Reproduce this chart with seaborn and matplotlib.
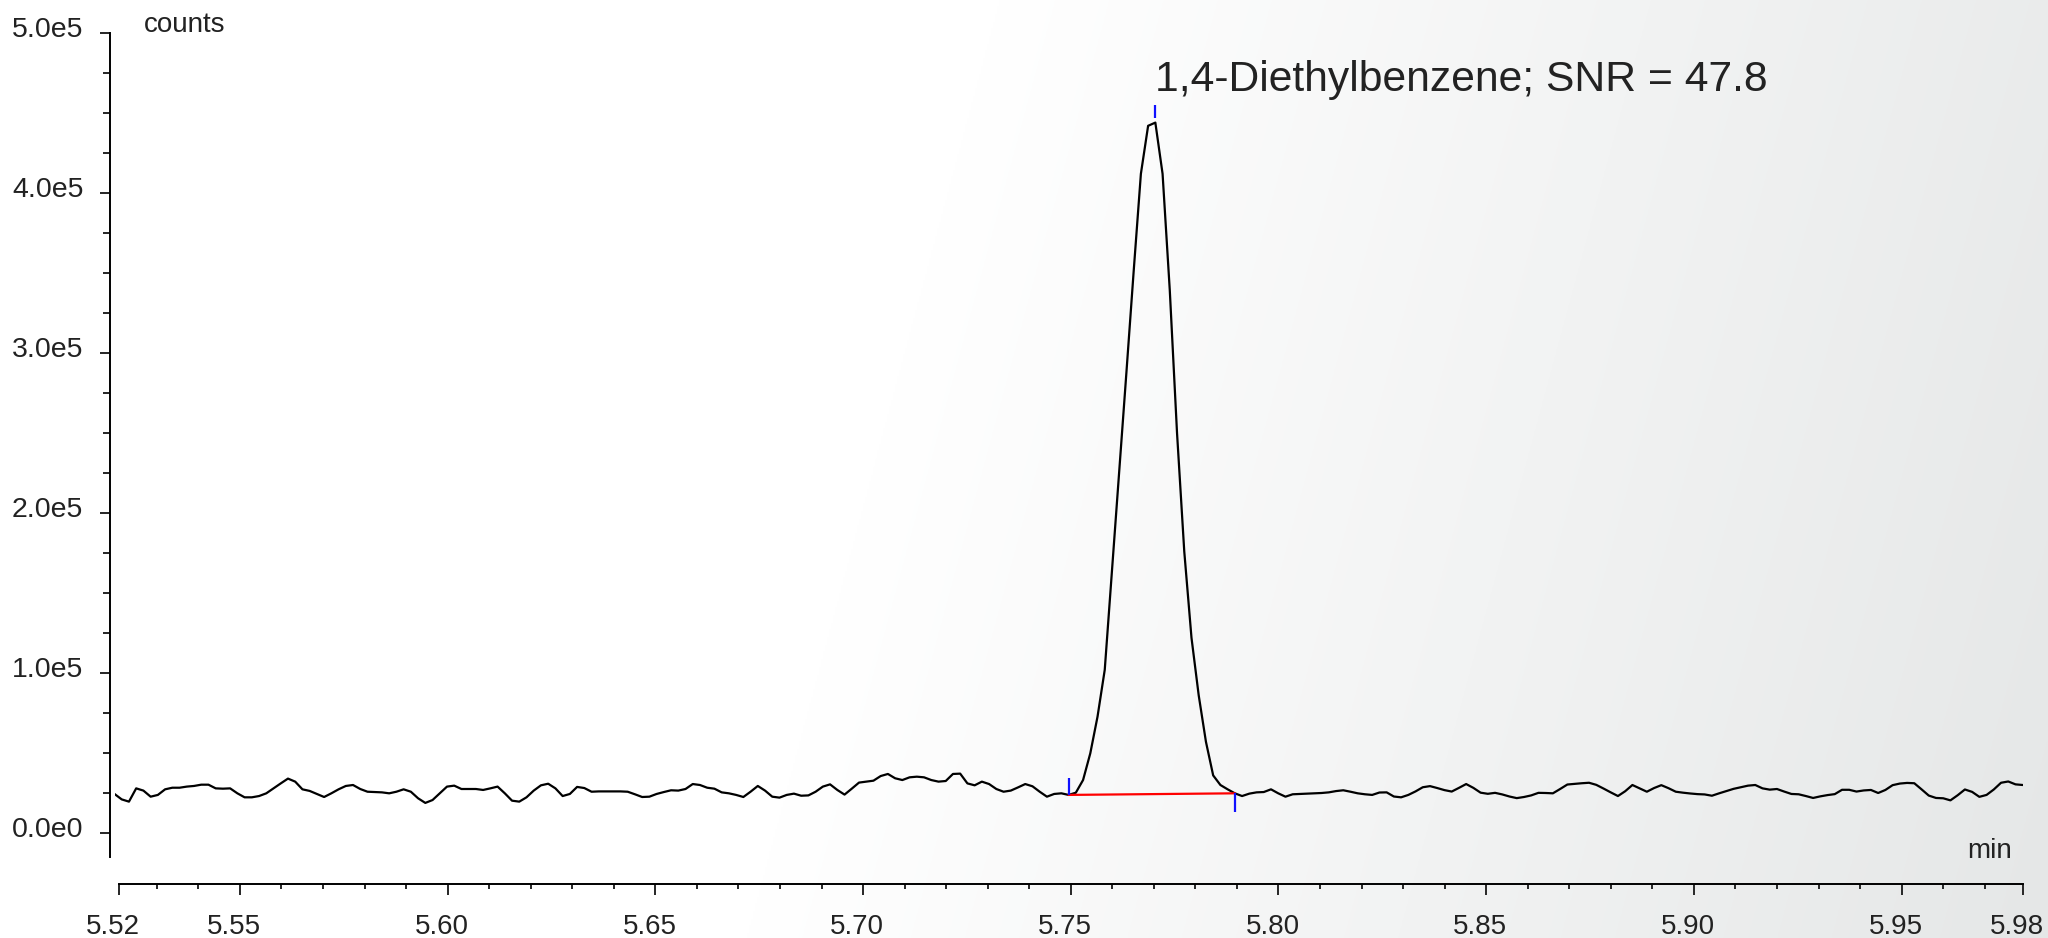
import numpy as np
import pandas as pd
import matplotlib
matplotlib.use("Agg")
import matplotlib.pyplot as plt
import matplotlib.transforms as mtransforms
import seaborn as sns

# sampling of the trace (retention time, min)
t_start = 5.5198
t_step = 0.00174
x_lo, x_hi = 5.5209, 5.9793

# detector counts in thousands
counts_before = [
    24.4, 21.0, 19.6, 27.9, 26.5, 22.7, 23.8, 27.3, 28.3, 28.3,
    29.0, 29.4, 30.2, 30.2, 27.9, 27.7, 27.9, 24.8, 22.3, 22.3,
    23.1, 24.8, 27.9, 31.0, 34.0, 32.1, 27.3, 26.3, 24.4, 22.5,
    24.8, 27.3, 29.4, 30.0, 27.5, 25.8, 25.6, 25.4, 24.8, 25.8,
    27.3, 25.8, 21.7, 18.8, 20.6, 24.8, 29.0, 29.6, 27.5, 27.5,
    27.5, 26.9, 27.9, 29.0, 24.8, 20.2, 19.6, 22.3, 26.5, 29.8,
    30.8, 27.9, 23.1, 24.4, 28.8, 28.1, 25.8,
    26.0, 26.0, 26.0, 26.0, 25.8, 24.2, 22.5, 22.7, 24.4, 25.6,
    26.7, 26.5, 27.5, 30.6, 30.0, 28.3, 27.7, 25.4, 24.8, 23.8,
    22.5, 25.8, 29.4, 26.5, 22.7, 22.1, 23.8, 24.6, 23.3, 23.5,
    25.8, 29.0, 30.4, 26.9, 24.0, 27.7, 31.5, 32.1, 32.7, 35.6,
    36.9, 34.2, 33.1, 34.8, 35.2, 34.8, 33.1, 32.1, 32.5, 36.9,
    37.1, 31.0, 29.8, 32.1, 30.6, 27.5, 25.8, 26.5, 28.5, 30.6,
    29.2, 25.8, 22.7, 24.4, 24.8, 23.8,
]
counts_peak = [
    25.2, 33.1, 49.8, 72.7, 102.0, 164.0, 226.0, 288.0, 351.0, 412.0,
    442.0, 444.0, 412.0, 339.0, 250.0, 176.0, 122.0, 86.0, 57.0, 36.0,
    30.0, 27.3, 24.8,
]
counts_after = [
    23.1, 24.6, 25.4, 25.6, 27.3, 24.8, 22.7, 24.2, 24.4, 24.6,
    24.8, 25.0, 25.4, 26.2,
    26.7, 25.8, 24.8, 24.2, 23.8, 25.3, 25.4, 22.8, 22.3, 23.8,
    26.0, 28.6, 29.3, 28.1, 26.8, 25.9, 28.2, 30.6, 28.2, 25.2,
    24.5, 25.1, 24.1, 22.8, 21.8, 22.5, 23.5, 25.1, 25.0, 24.8,
    27.5, 30.3, 30.7, 31.1, 31.4, 30.1, 27.8, 25.4, 23.1, 26.1,
    30.0, 27.9, 25.8, 28.1, 29.9, 28.0, 25.8, 25.2, 24.7, 24.3,
    24.1, 23.3, 24.8, 26.2, 27.6, 28.6, 29.6, 30.0, 27.9, 27.1,
    27.5, 25.9, 24.4, 24.2, 23.1, 21.9, 22.9, 23.7, 24.3, 27.0,
    27.0, 25.9, 26.6, 26.9, 25.0, 26.9, 29.9, 30.9, 31.3, 31.1,
    27.3, 23.4, 21.9, 21.7, 20.4, 23.6, 27.2, 25.7, 22.6, 23.8,
    27.2, 31.4, 32.2, 30.4, 30.0,
]

peak_start_idx = 132
peak_end_idx = 155
compound = "1,4-Diethylbenzene"
snr = 47.8

y_ticks = [0, 1e5, 2e5, 3e5, 4e5, 5e5]
y_labels = ["0.0e0", "1.0e5", "2.0e5", "3.0e5", "4.0e5", "5.0e5"]
x_ticks = [x_lo, 5.55, 5.60, 5.65, 5.70, 5.75, 5.80, 5.85, 5.90, 5.95, x_hi]
x_labels = ["5.52", "5.55", "5.60", "5.65", "5.70", "5.75", "5.80", "5.85",
            "5.90", "5.95", "5.98"]

counts = np.array(counts_before + counts_peak + counts_after) * 1000
df = pd.DataFrame({"time": t_start + t_step * np.arange(len(counts)),
                   "counts": counts})

sns.set_style("ticks")
plt.rcParams["font.family"] = ["Liberation Sans", "DejaVu Sans"]
txt = "#222222"

fig = plt.figure(figsize=(20.48, 9.38), dpi=100)

# soft grey gradient behind everything
bg = fig.add_axes([0, 0, 1, 1], zorder=-5)
yy, xx = np.mgrid[0:938:2, 0:2048:2]
g = np.clip((xx + 0.27 * yy - 1000) / 1300, 0, 1)[..., None]
grey = np.array([229, 231, 231]) / 255
bg.imshow((1 - g) * 1.0 + g * grey, aspect="auto", extent=[0, 1, 0, 1])
bg.axis("off")

ax = fig.add_axes([114.5 / 2048, 1 - 857 / 938, 1908.8 / 2048, 824 / 938])
ax.set_facecolor("none")

sns.lineplot(data=df, x="time", y="counts", ax=ax, color="black",
             linewidth=1.6, estimator=None, sort=False)

t = df["time"].to_numpy()
apex = int(np.argmax(counts))
s, e = peak_start_idx, peak_end_idx
ax.plot([t[s], t[e]], [counts[s], counts[e]], color="red", lw=1.6)
ax.vlines(t[s], counts[s], counts[s] + 10600, color="#1010ff", lw=1.6)
ax.vlines(t[e], counts[e] - 11500, counts[e], color="#1010ff", lw=1.6)
ax.vlines(t[apex], counts[apex] + 3000, counts[apex] + 11000, color="#1010ff", lw=1.6)
ax.annotate(f"{compound}; SNR = {snr}", xy=(t[apex], counts[apex]),
            xytext=(0, 32), textcoords="offset pixels",
            ha="left", va="baseline", fontsize=30.7, color=txt)

ax.set_xlim(t_start, x_hi)
ax.set_ylim(-15000, 5e5)
ax.set_xticks(x_ticks)
ax.set_xticklabels(x_labels)
ax.set_xticks([v for v in np.round(np.arange(5.53, 5.975, 0.01), 2)
               if round(v * 100) % 5 != 0], minor=True)
ax.set_yticks(y_ticks)
ax.set_yticklabels(y_labels)
ax.set_yticks([v for v in np.arange(0, 5e5, 25000) if v % 1e5 != 0], minor=True)
ax.set_xlabel("")
ax.set_ylabel("")

sns.despine(ax=ax, offset={"left": 3.2, "bottom": 19.4})
ax.spines["bottom"].set_bounds(x_lo, x_hi)
for side in ["left", "bottom"]:
    ax.spines[side].set_linewidth(1.4)
    ax.spines[side].set_color("black")

ax.tick_params(axis="x", which="major", length=7.9, width=1.4, pad=14,
               labelsize=20, labelcolor=txt)
ax.tick_params(axis="x", which="minor", length=3.8, width=1.4)
ax.tick_params(axis="y", which="major", length=7.2, width=1.4, pad=12,
               labelsize=20.5, labelcolor=txt)
ax.tick_params(axis="y", which="minor", length=4.8, width=1.4)

shift_x = mtransforms.ScaledTranslation(-0.06, 0, fig.dpi_scale_trans)
for lab in ax.get_xticklabels():
    lab.set_transform(lab.get_transform() + shift_x)
shift_y = mtransforms.ScaledTranslation(0, 0.06, fig.dpi_scale_trans)
for lab in ax.get_yticklabels():
    lab.set_transform(lab.get_transform() + shift_y)

fig.text(144 / 2048, 1 - 31.5 / 938, "counts", ha="left", va="baseline",
         fontsize=20, color=txt)
fig.text(2012 / 2048, 1 - 858 / 938, "min", ha="right", va="baseline",
         fontsize=20, color=txt)

fig.savefig("out.png", dpi=100)
